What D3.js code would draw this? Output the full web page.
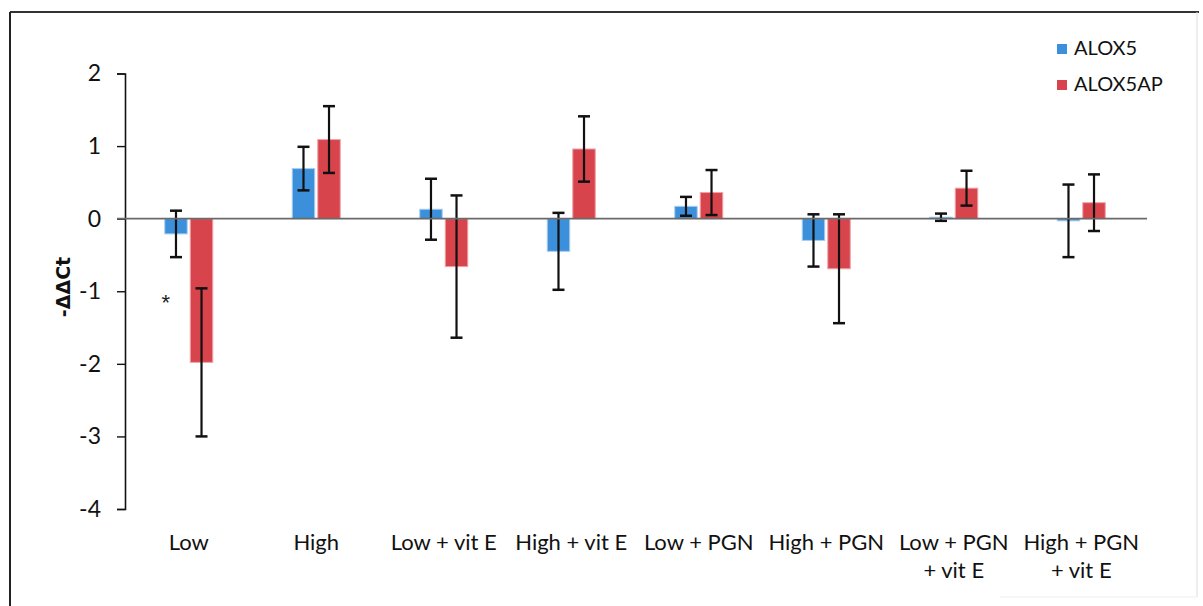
<!DOCTYPE html>
<html>
<head>
<meta charset="utf-8">
<script src="https://cdn.jsdelivr.net/npm/d3@7/dist/d3.min.js"></script>
<style>
  html, body { margin: 0; padding: 0; background: #fff; }
  svg { display: block; }
</style>
</head>
<body>
<svg id="chart" width="1203" height="606"></svg>
<script>
// ---- data ----
const categories = ["Low", "High", "Low + vit E", "High + vit E", "Low + PGN", "High + PGN", "Low + PGN\n+ vit E", "High + PGN\n+ vit E"];
const seriesNames = ["ALOX5", "ALOX5AP"];
const alox5 = [-0.21, 0.69, 0.13, -0.45, 0.17, -0.30, 0.02, -0.03];
const alox5Err = [0.32, 0.30, 0.42, 0.53, 0.13, 0.36, 0.05, 0.50];
const alox5ap = [-1.98, 1.09, -0.66, 0.96, 0.36, -0.69, 0.42, 0.22];
const alox5apErr = [1.02, 0.46, 0.98, 0.45, 0.31, 0.75, 0.24, 0.39];
const yTicks = [-4, -3, -2, -1, 0, 1, 2];
const significant = ["Low"];

const colors = { ALOX5: "#3c8fda", ALOX5AP: "#d8444c" };
const strokes = { ALOX5: "#a9cdf0", ALOX5AP: "#f0a0a6" };

const svg = d3.select("#chart");
const font = "Lato, 'Open Sans', sans-serif";

// frame
svg.append("line").attr("x1", 10).attr("y1", 12).attr("x2", 1199).attr("y2", 12).attr("stroke", "#333").attr("stroke-width", 2);
svg.append("line").attr("x1", 10).attr("y1", 12).attr("x2", 10).attr("y2", 606).attr("stroke", "#222").attr("stroke-width", 2);
svg.append("line").attr("x1", 1197).attr("y1", 12).attr("x2", 1197).attr("y2", 597).attr("stroke", "#ddd").attr("stroke-width", 1);
svg.append("line").attr("x1", 1000).attr("y1", 597).attr("x2", 1197).attr("y2", 597).attr("stroke", "#eee").attr("stroke-width", 1);

// scales
const y = d3.scaleLinear().domain([-4, 2]).range([509, 73.5]);
const x0 = d3.scaleBand().domain(categories).range([125, 1145]).padding(0);
const groupW = 48;
const x1 = d3.scaleBand().domain(seriesNames).range([0, groupW]).paddingInner(0.12);
const off = (x0.bandwidth() - groupW) / 2;

// y axis
const yAxis = d3.axisLeft(y).tickValues(yTicks).tickSize(8).tickPadding(16).tickFormat(d3.format("d"));
const gy = svg.append("g").attr("transform", "translate(125,0)").call(yAxis);
gy.select(".domain").attr("stroke", "#111").attr("stroke-width", 1.6);
gy.selectAll(".tick line").attr("stroke", "#111").attr("stroke-width", 1.4);
gy.selectAll(".tick text").attr("font-family", font).attr("font-size", 23).attr("fill", "#111")
  .text(d => d < 0 ? "-" + Math.abs(d) : d);

// bars
const rows = categories.map((c, i) => ({
  cat: c,
  vals: [
    { s: "ALOX5", v: alox5[i], e: alox5Err[i] },
    { s: "ALOX5AP", v: alox5ap[i], e: alox5apErr[i] }
  ]
}));

const groups = svg.append("g").selectAll("g").data(rows).join("g")
  .attr("transform", d => `translate(${x0(d.cat) + off},0)`);

groups.selectAll("rect").data(d => d.vals).join("rect")
  .attr("x", d => x1(d.s))
  .attr("width", x1.bandwidth())
  .attr("y", d => Math.min(y(d.v), y(0)))
  .attr("height", d => Math.abs(y(d.v) - y(0)))
  .attr("fill", d => colors[d.s])
  .attr("stroke", d => strokes[d.s])
  .attr("stroke-width", 1);

// zero axis line
const gx = svg.append("g").attr("transform", `translate(0,${y(0)})`);
gx.append("line").attr("x1", 117).attr("x2", 1147).attr("stroke", "#6a6a6a").attr("stroke-width", 1.6);

// error bars
const capW = 12;
const eb = groups.selectAll("g.err").data(d => d.vals).join("g").attr("class", "err");
eb.append("line")
  .attr("x1", d => x1(d.s) + x1.bandwidth() / 2).attr("x2", d => x1(d.s) + x1.bandwidth() / 2)
  .attr("y1", d => y(d.v + d.e)).attr("y2", d => y(d.v - d.e))
  .attr("stroke", "#111").attr("stroke-width", 2.2);
eb.append("line")
  .attr("x1", d => x1(d.s) + x1.bandwidth() / 2 - capW / 2).attr("x2", d => x1(d.s) + x1.bandwidth() / 2 + capW / 2)
  .attr("y1", d => y(d.v + d.e)).attr("y2", d => y(d.v + d.e))
  .attr("stroke", "#111").attr("stroke-width", 2.5);
eb.append("line")
  .attr("x1", d => x1(d.s) + x1.bandwidth() / 2 - capW / 2).attr("x2", d => x1(d.s) + x1.bandwidth() / 2 + capW / 2)
  .attr("y1", d => y(d.v - d.e)).attr("y2", d => y(d.v - d.e))
  .attr("stroke", "#111").attr("stroke-width", 2.5);

// category labels
const lab = svg.append("g").selectAll("text").data(categories).join("text")
  .attr("x", d => x0(d) + x0.bandwidth() / 2)
  .attr("y", 550)
  .attr("text-anchor", "middle")
  .attr("font-family", font).attr("font-size", 22).attr("fill", "#111");
lab.each(function(d) {
  const lines = d.split("\n");
  d3.select(this).selectAll("tspan").data(lines).join("tspan")
    .attr("x", x0(d) + x0.bandwidth() / 2)
    .attr("dy", (l, i) => i === 0 ? 0 : 28)
    .text(l => l);
});

// significance asterisk
svg.append("g").selectAll("text").data(significant).join("text")
  .attr("x", d => x0(d) + off + 1)
  .attr("y", 310)
  .attr("text-anchor", "middle")
  .attr("font-family", "'Liberation Sans', sans-serif").attr("font-size", 22).attr("fill", "#222")
  .text("*");

// y axis title
svg.append("text")
  .attr("transform", "translate(70,287) rotate(-90)")
  .attr("text-anchor", "middle")
  .attr("font-family", "'DejaVu Sans', sans-serif")
  .attr("font-weight", "bold").attr("font-size", 19).attr("fill", "#111")
  .text("-ΔΔCt");

// legend
const leg = svg.append("g").selectAll("g").data(seriesNames).join("g")
  .attr("transform", (d, i) => `translate(1057,${44 + i * 36})`);
leg.append("rect").attr("width", 10).attr("height", 10).attr("fill", d => colors[d]);
leg.append("text").attr("x", 17).attr("y", 11).attr("font-family", font).attr("font-size", 20).attr("fill", "#111").text(d => d);
</script>
</body>
</html>
